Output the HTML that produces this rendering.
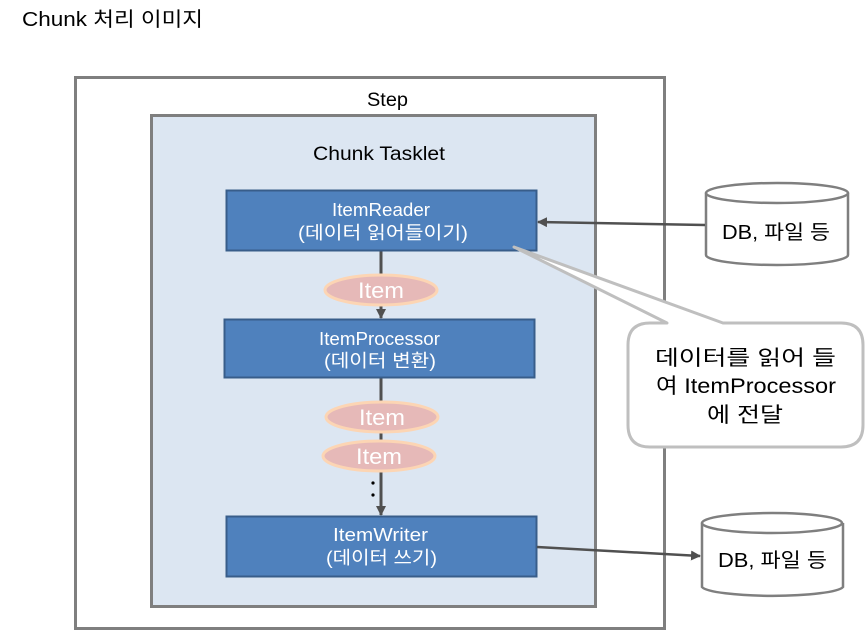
<!DOCTYPE html>
<html><head><meta charset="utf-8"><style>
html,body{margin:0;padding:0;background:#fff;}
svg{display:block;}
text{font-family:"Liberation Sans","Noto Sans CJK KR","NanumGothic",sans-serif;}
</style></head><body>
<svg width="865" height="631" viewBox="0 0 865 631" xmlns="http://www.w3.org/2000/svg">
<defs>
<marker id="ah" markerWidth="10" markerHeight="10" refX="9" refY="5" orient="auto" markerUnits="userSpaceOnUse">
<path d="M0,0 L10,5 L0,10 Z" fill="#505050"/></marker>
</defs>
<text x="22" y="26" font-size="20" fill="#000" textLength="181" lengthAdjust="spacingAndGlyphs">Chunk 처리 이미지</text>
<rect x="75.5" y="77.5" width="589" height="551" fill="#fff" stroke="#7f7f7f" stroke-width="3"/>
<text x="367" y="106" font-size="19" textLength="41" lengthAdjust="spacingAndGlyphs">Step</text>
<rect x="151.5" y="115.5" width="444" height="491" fill="#dce6f2" stroke="#7f7f7f" stroke-width="3"/>
<text x="313" y="160" font-size="19" textLength="132" lengthAdjust="spacingAndGlyphs">Chunk Tasklet</text>

<line x1="381" y1="251" x2="381" y2="318" stroke="#505050" stroke-width="3" marker-end="url(#ah)"/>
<line x1="381" y1="378" x2="381" y2="515" stroke="#505050" stroke-width="3" marker-end="url(#ah)"/>

<rect x="226.5" y="190.5" width="310" height="60" fill="#4f81bd" stroke="#385d8a" stroke-width="2"/>
<text x="332" y="216" font-size="18" fill="#fff" textLength="98" lengthAdjust="spacingAndGlyphs">ItemReader</text>
<text x="298" y="239" font-size="18" fill="#fff" textLength="170" lengthAdjust="spacingAndGlyphs">(데이터 읽어들이기)</text>

<rect x="224.5" y="319.5" width="310" height="58" fill="#4f81bd" stroke="#385d8a" stroke-width="2"/>
<text x="319" y="345" font-size="18" fill="#fff" textLength="121" lengthAdjust="spacingAndGlyphs">ItemProcessor</text>
<text x="324" y="367" font-size="18" fill="#fff" textLength="112" lengthAdjust="spacingAndGlyphs">(데이터 변환)</text>

<rect x="226.5" y="516.5" width="310" height="60" fill="#4f81bd" stroke="#385d8a" stroke-width="2"/>
<text x="333" y="541" font-size="18" fill="#fff" textLength="95" lengthAdjust="spacingAndGlyphs">ItemWriter</text>
<text x="326" y="564" font-size="18" fill="#fff" textLength="111" lengthAdjust="spacingAndGlyphs">(데이터 쓰기)</text>

<g fill="#e6b9b8" stroke="#fcd5b4" stroke-width="3">
<ellipse cx="381" cy="290" rx="56" ry="15"/>
<ellipse cx="382" cy="417" rx="56" ry="15"/>
<ellipse cx="379" cy="456" rx="56" ry="15"/>
</g>
<g fill="#fff" font-size="22">
<text x="358" y="298" textLength="46" lengthAdjust="spacingAndGlyphs">Item</text>
<text x="359" y="425" textLength="46" lengthAdjust="spacingAndGlyphs">Item</text>
<text x="356" y="464" textLength="46" lengthAdjust="spacingAndGlyphs">Item</text>
</g>
<circle cx="373" cy="483" r="1.6" fill="#000"/>
<circle cx="373" cy="495" r="1.6" fill="#000"/>

<path d="M650,323 L667,323 L514,247 L723,323 L841,323 Q863,323 863,345 L863,425 Q863,447 841,447 L650,447 Q628,447 628,425 L628,345 Q628,323 650,323 Z" fill="#fff" stroke="#bfbfbf" stroke-width="3" stroke-linejoin="round"/>
<g font-size="21" fill="#000">
<text x="655" y="365" textLength="181" lengthAdjust="spacingAndGlyphs">데이터를 읽어 들</text>
<text x="656" y="393" textLength="180" lengthAdjust="spacingAndGlyphs">여 ItemProcessor</text>
<text x="707" y="422" textLength="76" lengthAdjust="spacingAndGlyphs">에 전달</text>
</g>

<path d="M706,193 L706,255 A71,10 0 0 0 848,255 L848,193" fill="#fff" stroke="#7f7f7f" stroke-width="2.5"/>
<ellipse cx="777" cy="193" rx="71" ry="10" fill="#fff" stroke="#7f7f7f" stroke-width="2.5"/>
<text x="722" y="239" font-size="20" textLength="108" lengthAdjust="spacingAndGlyphs">DB, 파일 등</text>
<line x1="705" y1="225" x2="538" y2="222" stroke="#505050" stroke-width="2.5" marker-end="url(#ah)"/>

<path d="M702,523 L702,587 A71,10 0 0 0 843,587 L843,523" fill="#fff" stroke="#7f7f7f" stroke-width="2.5"/>
<ellipse cx="772" cy="523" rx="70" ry="10" fill="#fff" stroke="#7f7f7f" stroke-width="2.5"/>
<text x="718" y="567" font-size="20" textLength="109" lengthAdjust="spacingAndGlyphs">DB, 파일 등</text>
<line x1="537" y1="547" x2="700" y2="556" stroke="#505050" stroke-width="2.5" marker-end="url(#ah)"/>
</svg>
</body></html>
